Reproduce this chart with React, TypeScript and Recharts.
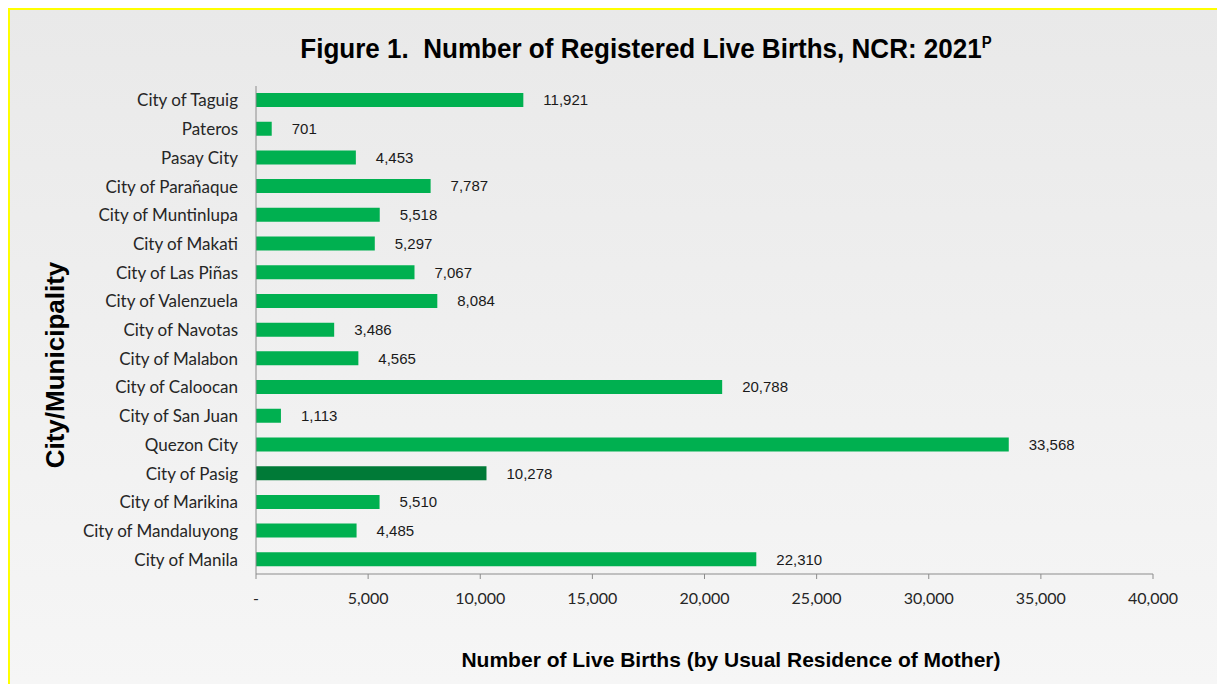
import React from 'react';
import { BarChart, Bar, XAxis, YAxis, Cell, LabelList } from 'recharts';

// cities, top to bottom as shown
const CITIES = [
  'City of  Taguig',
  'Pateros',
  'Pasay City',
  'City of Parañaque',
  'City of Muntinlupa',
  'City of Makati',
  'City of Las Piñas',
  'City of Valenzuela',
  'City of Navotas',
  'City of Malabon',
  'City of Caloocan',
  'City of San Juan',
  'Quezon City',
  'City of Pasig',
  'City of Marikina',
  'City of Mandaluyong',
  'City of Manila',
];

const BIRTHS = [11921, 701, 4453, 7787, 5518, 5297, 7067, 8084, 3486, 4565, 20788, 1113, 33568, 10278, 5510, 4485, 22310];

const X_TICKS = [0, 5000, 10000, 15000, 20000, 25000, 30000, 35000, 40000];

const HIGHLIGHT = 'City of Pasig';

const chartData = CITIES.map((city, i) => ({ city, births: BIRTHS[i] }));

const fmt = (v: number) => (v === 0 ? '-' : v.toLocaleString('en-US'));

export default function App() {
  return (
    <div
      style={{
        position: 'relative',
        width: 1217,
        height: 690,
        background: 'linear-gradient(#e9e9e9, #f6f6f6 676px)',
        boxShadow: 'inset 0 0 0 2px #ffff00',
        fontFamily: '"Liberation Sans", Arial, sans-serif',
      }}
    >
      {/* title */}
      <div
        style={{
          position: 'absolute',
          top: 25,
          left: 0,
          width: 1276,
          textAlign: 'center',
          fontWeight: 'bold',
          fontSize: 28,
          color: '#000',
          whiteSpace: 'pre',
          transform: 'scaleX(0.93)',
        }}
      >
        {'Figure 1.  Number of Registered Live Births, NCR: 2021'}
        <sup style={{ fontSize: 16 }}>P</sup>
      </div>

      <BarChart
        width={1217}
        height={676}
        data={chartData}
        layout="vertical"
        margin={{ top: 78, right: 72, bottom: 80, left: 0 }}
        barSize={14}
      >
        <XAxis
          type="number"
          domain={[0, 40000]}
          ticks={X_TICKS}
          tickFormatter={fmt}
          height={30}
          stroke="#8c8c8c"
          tickSize={5}
          tickMargin={14}
          tick={{ fill: '#262626', fontSize: 16, fontFamily: 'Lato, sans-serif' }}
        />
        <YAxis
          type="category"
          dataKey="city"
          width={248}
          stroke="#8c8c8c"
          tickLine={false}
          tickSize={0}
          tickMargin={18}
          interval={0}
          tick={{ fill: '#262626', fontSize: 17, fontFamily: 'Lato, sans-serif' }}
        />
        <Bar dataKey="births" isAnimationActive={false}>
          {chartData.map((d) => (
            <Cell key={d.city} fill={d.city === HIGHLIGHT ? '#007a37' : '#00b050'} />
          ))}
          <LabelList
            dataKey="births"
            position="right"
            offset={20}
            formatter={(v: any) => Number(v).toLocaleString('en-US')}
            style={{ fill: '#1a1a1a', fontSize: 15, fontFamily: '"Liberation Sans", Arial, sans-serif' }}
          />
        </Bar>
      </BarChart>

      {/* axis titles */}
      <div
        style={{
          position: 'absolute',
          top: 640,
          left: 423,
          width: 600,
          textAlign: 'center',
          fontWeight: 'bold',
          fontSize: 21,
          color: '#000',
          whiteSpace: 'nowrap',
        }}
      >
        Number of Live Births (by Usual Residence of Mother)
      </div>
      <div
        style={{
          position: 'absolute',
          left: 47,
          top: 357,
          width: 0,
          height: 0,
        }}
      >
        <div
          style={{
            position: 'absolute',
            transform: 'translate(-50%, -50%) rotate(-90deg)',
            fontWeight: 'bold',
            fontSize: 26,
            color: '#000',
            whiteSpace: 'nowrap',
          }}
        >
          City/Municipality
        </div>
      </div>
    </div>
  );
}
